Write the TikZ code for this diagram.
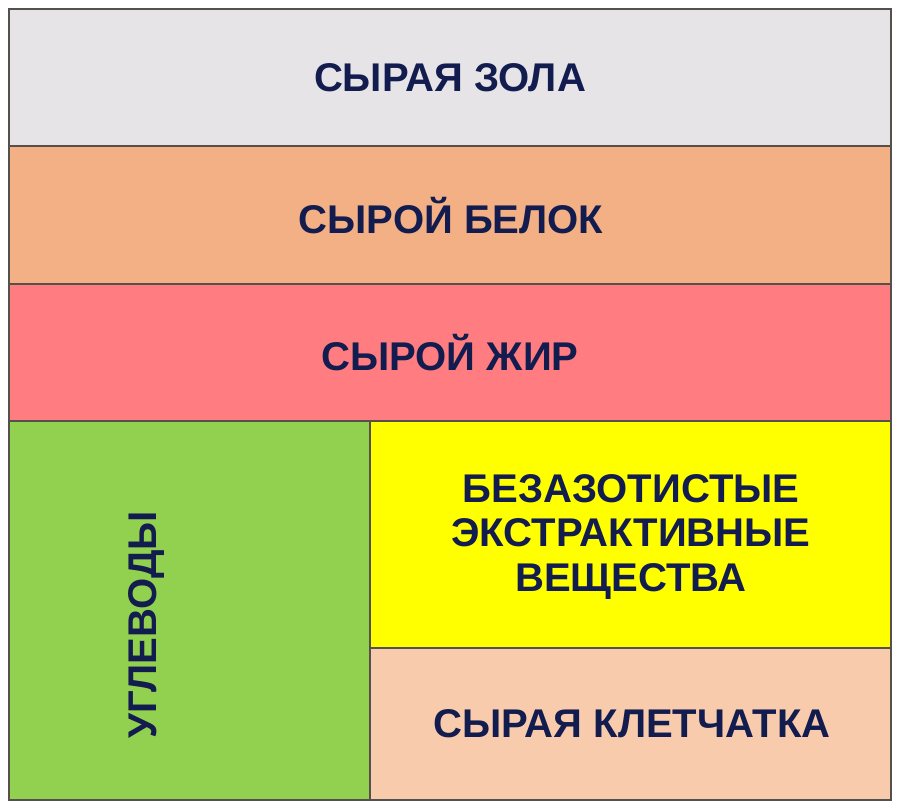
\documentclass[tikz,border=0pt]{standalone}
\usepackage{fontspec}
\setmainfont{Liberation Sans}
\usepackage{tikz}
\definecolor{zola}{RGB}{230,228,230}
\definecolor{belok}{RGB}{243,176,133}
\definecolor{zhir}{RGB}{255,124,128}
\definecolor{uglev}{RGB}{146,208,80}
\definecolor{bev}{RGB}{255,255,0}
\definecolor{kletch}{RGB}{248,203,173}
\definecolor{txtblue}{RGB}{18,28,78}
\definecolor{edge}{RGB}{85,80,75}
\tikzset{cell/.style={draw=edge, line width=0.6pt},
	lbl/.style={text=txtblue, font=\fontsize{22.8}{25.2}\selectfont\bfseries, align=center}}

\begin{document}
\begin{tikzpicture}[x=0.02cm, y=-0.02cm]

	  \useasboundingbox [fill=white] (0,0) rectangle (900,810);

	  %----------------------------------------------------------------
	  \draw [cell, fill=zola] (9,9) rectangle (891,146);
	  \draw [cell, fill=belok] (9,146) rectangle (891,284);
	  \draw [cell, fill=zhir] (9,284) rectangle (891,421);

	  \node [lbl] (zola) at (450,78) {СЫРАЯ ЗОЛА};
	  \node [lbl] (belok) at (451,216) {СЫРОЙ БЕЛОК};
	  \node [lbl] (zhir) at (450,353) {СЫРОЙ ЖИР};

	  %----------------------------------------------------------------
	  \draw [cell, fill=uglev] (9,421) rectangle (370,800);
	  \draw [cell, fill=bev] (370,421) rectangle (891,648);
	  \draw [cell, fill=kletch] (370,648) rectangle (891,800);

	  \node [lbl, rotate=90] (uglev) at (147,625) {УГЛЕВОДЫ};
	  \node [lbl] (bev) at (631,537) {БЕЗАЗОТИСТЫЕ\\ЭКСТРАКТИВНЫЕ\\ВЕЩЕСТВА};
	  \node [lbl] (kletch) at (632,724) {СЫРАЯ КЛЕТЧАТКА};

	  \draw [edge, line width=1pt] (9,9) rectangle (891,800);

\end{tikzpicture}
\end{document}
